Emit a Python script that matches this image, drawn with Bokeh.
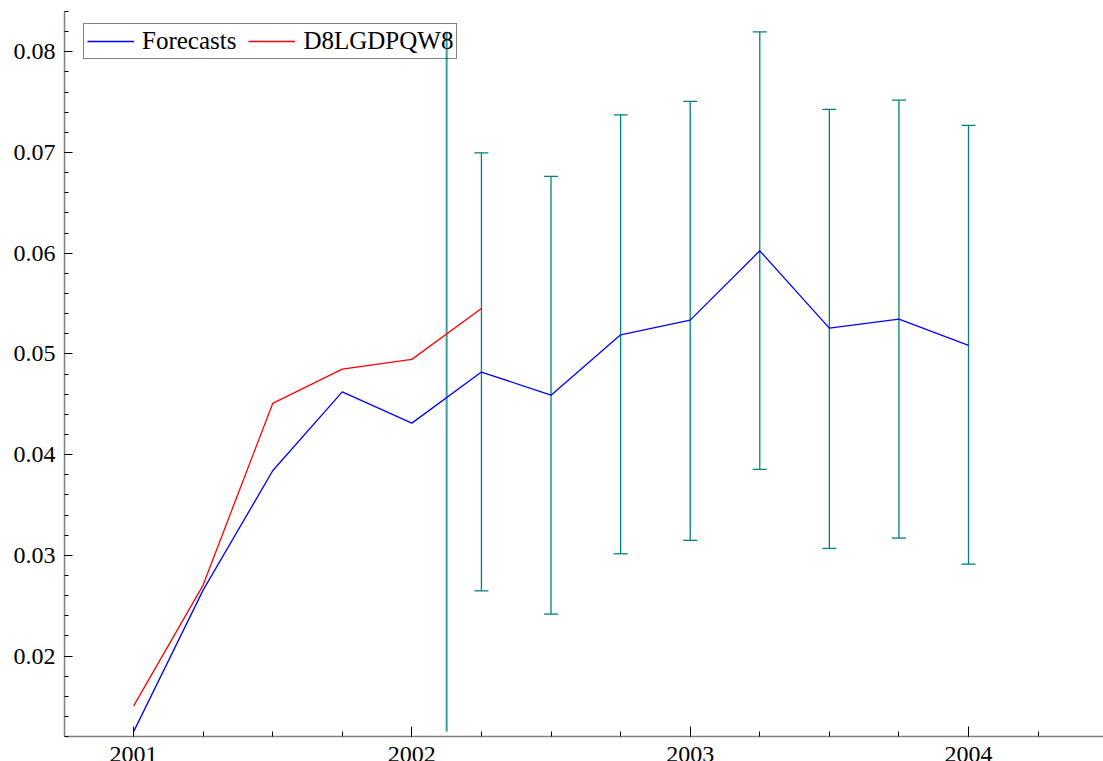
from bokeh.plotting import figure
from bokeh.models import (Range1d, SingleIntervalTicker, Legend, LegendItem, Whisker,
                          TeeHead, ColumnDataSource)
from bokeh.embed import file_html
from bokeh.resources import INLINE

# ---- data ----
forecast_x = [2001.0, 2001.25, 2001.5, 2001.75, 2002.0, 2002.25, 2002.5,
              2002.75, 2003.0, 2003.25, 2003.5, 2003.75, 2004.0]
forecasts = [0.01248, 0.02655, 0.03840, 0.04624, 0.04313, 0.04820, 0.04591,
             0.05190, 0.05336, 0.06024, 0.05257, 0.05346, 0.05085]

actual_x = [2001.0, 2001.25, 2001.5, 2001.75, 2002.0, 2002.25]
actual = [0.01504, 0.02705, 0.04509, 0.04849, 0.04946, 0.05452]

band_x = [2002.25, 2002.5, 2002.75, 2003.0, 2003.25, 2003.5, 2003.75, 2004.0]
band_upper = [0.06997, 0.06763, 0.07374, 0.07507, 0.08198, 0.07428, 0.07520, 0.07269]
band_lower = [0.02648, 0.02417, 0.03016, 0.03149, 0.03854, 0.03069, 0.03172, 0.02913]

forecast_start = 2002.125

x_tick_years = [2001, 2002, 2003, 2004]
x_tick_labels = ["2001", "2002", "2003", "2004"]

series_names = ["Forecasts", "D8LGDPQW8"]

FONT = "Liberation Serif"
TEAL = "#008080"

W, H = 1103, 761
LEFT, TOP = 64, 11
x0, x1 = 2000.752, 2004.485
y_axis_lo, y_axis_hi = 0.012, 0.084
px_per_unit = 10072.0
frame_h = H - TOP
y_lo = y_axis_hi - frame_h / px_per_unit   # frame runs to the bottom edge

p = figure(width=W, height=H, output_backend="svg", toolbar_location=None,
           x_range=Range1d(x0, x1), y_range=Range1d(y_lo, y_axis_hi),
           min_border_left=LEFT, min_border_right=0, min_border_top=TOP,
           min_border_bottom=0)
p.outline_line_color = None
p.xgrid.visible = False
p.ygrid.visible = False
p.background_fill_color = "white"
p.border_fill_color = "white"

# axes
p.xaxis.ticker = SingleIntervalTicker(interval=1, num_minor_ticks=4)
p.yaxis.ticker = SingleIntervalTicker(interval=0.01, num_minor_ticks=5)
p.xaxis.fixed_location = y_axis_lo
p.yaxis.bounds = (y_axis_lo, y_axis_hi)
for ax in (p.xaxis[0], p.yaxis[0]):
    ax.axis_line_color = "#808080"
    ax.axis_line_width = 1.5
    ax.major_tick_line_color = "black"
    ax.minor_tick_line_color = "black"
    ax.major_tick_out = 0
    ax.minor_tick_out = 0
    ax.major_label_text_font = FONT
    ax.major_label_text_font_size = "24px"
    ax.major_label_text_color = "black"
p.xaxis.major_tick_in = 10
p.xaxis.minor_tick_in = 5
p.yaxis.major_tick_in = 8
p.yaxis.minor_tick_in = 4
p.yaxis.major_label_standoff = 9
p.xaxis.major_label_standoff = 10
p.xaxis.major_label_overrides = {yr: lab for yr, lab in zip(x_tick_years, x_tick_labels)}

# forecast start line spanning the data range
all_vals = forecasts + actual + band_upper + band_lower
p.segment(x0=[forecast_start], y0=[min(all_vals)], x1=[forecast_start], y1=[max(all_vals)],
          line_color="#3a9e9e", line_width=2)

# error bars
src = ColumnDataSource(dict(x=band_x, upper=band_upper, lower=band_lower))
w = Whisker(base="x", upper="upper", lower="lower", source=src,
            line_color=TEAL, line_width=1.3,
            upper_head=TeeHead(size=14, line_color=TEAL, line_width=1.3),
            lower_head=TeeHead(size=14, line_color=TEAL, line_width=1.3))
p.add_layout(w)

r_f = p.line(forecast_x, forecasts, line_color="#0000ff", line_width=1.3)
r_a = p.line(actual_x, actual, line_color="#ff0000", line_width=1.3)

legend = Legend(items=[LegendItem(label=series_names[0], renderers=[r_f]),
                       LegendItem(label=series_names[1], renderers=[r_a])],
                orientation="horizontal", location=(19, frame_h - 14 - 34),
                label_text_font=FONT, label_text_font_size="25px", label_text_color="black",
                glyph_width=47, label_standoff=8, spacing=12, padding=3, margin=0,
                label_height=28, glyph_height=28,
                border_line_color="black", border_line_width=1,
                background_fill_color="white", background_fill_alpha=0.0)
p.add_layout(legend)

open("out.html", "w").write(file_html(p, INLINE))
